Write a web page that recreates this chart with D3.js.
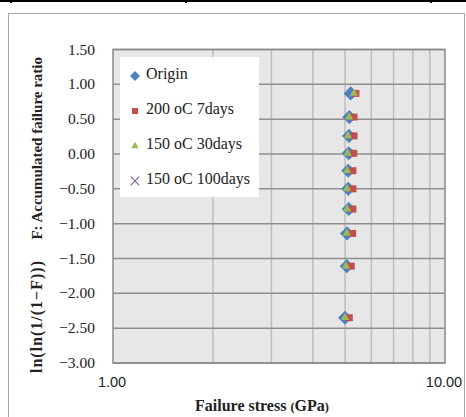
<!DOCTYPE html>
<html>
<head>
<meta charset="utf-8">
<script src="https://cdn.jsdelivr.net/npm/d3@7"></script>
<style>
  body { margin: 0; background: #fff; }
  text { font-family: "Liberation Serif", serif; }
</style>
</head>
<body>
<script>
// y = ln(ln(1/(1-F))) for each rank
const yVals = [-2.35, -1.61, -1.14, -0.79, -0.50, -0.24, 0.01, 0.26, 0.53, 0.87];
// failure stress (GPa) per series
const originX = [5.00, 5.06, 5.07, 5.13, 5.11, 5.11, 5.13, 5.14, 5.15, 5.20];
const c200d7X = [5.15, 5.22, 5.27, 5.28, 5.28, 5.28, 5.31, 5.32, 5.32, 5.39];
const c150d30X = [5.00, 5.03, 5.06, 5.07, 5.07, 5.07, 5.09, 5.10, 5.14, 5.32];
const c150d100X = [];

const seriesNames = ["Origin", "200 oC 7days", "150 oC 30days", "150 oC 100days"];
const yTicks = [-3, -2.5, -2, -1.5, -1, -0.5, 0, 0.5, 1, 1.5];
const xTicks = [1, 10];
const xGrid = [2, 3, 4, 5, 6, 7, 8, 9];

const width = 466;
const height = 417;
const plotL = 113, plotR = 445, plotT = 49.5, plotB = 363;

let svg = d3.select('body')
            .append('svg')
            .attr('width', width)
            .attr('height', height);

// bits of the surrounding table
svg.append('rect').attr('x', 0).attr('y', 0).attr('width', width).attr('height', 2).attr('fill', '#000');
[10, 185, 430].forEach(x => {
    svg.append('rect').attr('x', x).attr('y', 0).attr('width', 2).attr('height', 3).attr('fill', '#000');
});

// chart frame
svg.append('rect')
   .attr('x', 8.5).attr('y', 13.5)
   .attr('width', 456).attr('height', 420)
   .attr('fill', '#fff')
   .attr('stroke', '#a6a6a6');

let x = d3.scaleLog().domain([1, 10]).range([plotL, plotR]);
let y = d3.scaleLinear().domain([-3, 1.5]).range([plotB, plotT]);

svg.append('rect')
   .attr('x', plotL).attr('y', plotT)
   .attr('width', plotR - plotL).attr('height', plotB - plotT)
   .attr('fill', '#e7e7e7');

svg.selectAll('.vgrid')
   .data(xGrid)
   .enter()
   .append('line')
   .attr('x1', d => x(d)).attr('x2', d => x(d))
   .attr('y1', plotT).attr('y2', plotB)
   .attr('stroke', '#bdbdbd')
   .attr('stroke-width', 1.5);

svg.selectAll('.hgrid')
   .data(yTicks)
   .enter()
   .append('line')
   .attr('x1', plotL).attr('x2', plotR)
   .attr('y1', d => y(d)).attr('y2', d => y(d))
   .attr('stroke', '#8f8f8f')
   .attr('stroke-width', 1.5);

svg.append('rect')
   .attr('x', plotL).attr('y', plotT)
   .attr('width', plotR - plotL).attr('height', plotB - plotT)
   .attr('fill', 'none')
   .attr('stroke', '#8a8a8a')
   .attr('stroke-width', 1.5);

// y tick labels
svg.selectAll('.ylab')
   .data(yTicks)
   .enter()
   .append('text')
   .attr('x', 95)
   .attr('y', d => y(d) + 5)
   .attr('text-anchor', 'end')
   .attr('font-size', 15.5)
   .attr('fill', '#222')
   .text(d => d3.format('.2f')(d).replace('-', '\u2212'));

// x tick labels (sans)
svg.selectAll('.xlab')
   .data(xTicks)
   .enter()
   .append('text')
   .attr('x', d => x(d) - 1)
   .attr('y', 387)
   .attr('text-anchor', 'middle')
   .style('font-family', '"Liberation Sans", Arial, sans-serif')
   .attr('font-size', 14.5)
   .attr('fill', '#222')
   .text(d => d3.format('.2f')(d));

// axis titles
let xt = svg.append('text')
   .attr('x', 262).attr('y', 411)
   .attr('text-anchor', 'middle')
   .attr('font-weight', 'bold')
   .attr('font-size', 16)
   .attr('fill', '#222');
xt.append('tspan').text('Failure stress ');
xt.append('tspan').attr('font-size', 12.5).text('(');
xt.append('tspan').text('GPa');
xt.append('tspan').attr('font-size', 12.5).text(')');

svg.append('text')
   .attr('transform', 'translate(42,57) rotate(-90)')
   .attr('text-anchor', 'end')
   .attr('font-weight', 'bold')
   .attr('font-size', 15)
   .attr('fill', '#222')
   .text('F: Accumulated failure ratio');

svg.append('text')
   .attr('transform', 'translate(42,373) rotate(-90)')
   .attr('text-anchor', 'start')
   .attr('font-weight', 'bold')
   .attr('font-size', 16)
   .attr('letter-spacing', 1)
   .attr('fill', '#222')
   .text('ln(ln(1/(1\u2212F)))');

// markers
const colors = ['#4f81bd', '#c0504d', '#9bbb59', '#8064a2'];
const diamond = d3.symbol().type(d3.symbolSquare).size(100);
const square = d3.symbol().type(d3.symbolSquare).size(49);
const triangle = d3.symbol().type(d3.symbolTriangle).size(30);
const cross = d3.symbol().type(d3.symbolX).size(60);

function drawSeries(xs, sym, color, rot, stroke) {
    svg.append('g')
       .selectAll('path')
       .data(xs.map((v, i) => [v, yVals[i]]))
       .enter()
       .append('path')
       .attr('d', sym)
       .attr('transform', d => `translate(${x(d[0])},${y(d[1])}) rotate(${rot})`)
       .attr('fill', stroke ? 'none' : color)
       .attr('stroke', stroke ? color : 'none')
       .attr('stroke-width', 1.3);
}
drawSeries(originX, diamond, colors[0], 45, false);
drawSeries(c200d7X, square, colors[1], 0, false);
drawSeries(c150d30X, triangle, colors[2], 0, false);
drawSeries(c150d100X, cross, colors[3], 0, true);

// legend
const lx = 120, ly = 57;
svg.append('rect')
   .attr('x', lx).attr('y', ly)
   .attr('width', 139).attr('height', 140)
   .attr('fill', '#fff');

const legendSyms = [
    {sym: d3.symbol().type(d3.symbolSquare).size(50), rot: 45, stroke: false},
    {sym: d3.symbol().type(d3.symbolSquare).size(36), rot: 0, stroke: false},
    {sym: d3.symbol().type(d3.symbolTriangle).size(24), rot: 0, stroke: false},
    {sym: d3.symbol().type(d3.symbolX).size(50), rot: 0, stroke: true}
];

let items = svg.selectAll('.legend')
   .data(seriesNames)
   .enter()
   .append('g')
   .attr('transform', (d, i) => `translate(${lx}, ${ly + 17 + i * 35})`);

items.append('path')
   .attr('d', (d, i) => legendSyms[i].sym())
   .attr('transform', (d, i) => `translate(15,2) rotate(${legendSyms[i].rot})`)
   .attr('fill', (d, i) => legendSyms[i].stroke ? 'none' : colors[i])
   .attr('stroke', (d, i) => legendSyms[i].stroke ? colors[i] : 'none')
   .attr('stroke-width', 1.2);

items.append('text')
   .attr('x', 26)
   .attr('y', 5)
   .attr('font-size', 16)
   .attr('fill', '#222')
   .text(d => d);
</script>
</body>
</html>
